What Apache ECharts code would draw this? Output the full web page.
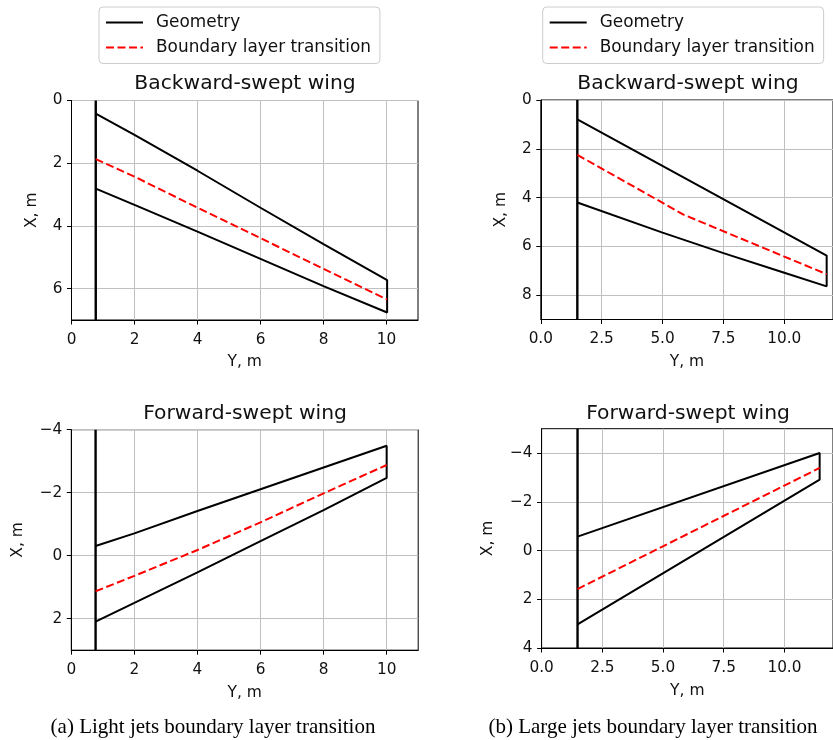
<!DOCTYPE html>
<html>
<head>
<meta charset="utf-8">
<script src="https://cdn.jsdelivr.net/npm/echarts@6/dist/echarts.min.js"></script>
<style>
  html, body { margin: 0; padding: 0; background: #ffffff; }
  #chart { width: 833px; height: 740px; }
</style>
</head>
<body>
<div id="chart"></div>
<script>
// Wing planforms: points are [Y (span), X (chord)] in metres.

// (a) Light jets, backward-swept wing
const lightBackRoot = 0.77;
const lightBackLeading = [[0.77, 0.42], [2, 1.10], [4, 2.24], [6, 3.42], [8, 4.58], [10.02, 5.73]];
const lightBackTrailing = [[0.77, 2.81], [2, 3.33], [4, 4.18], [6, 5.05], [8, 5.92], [10.02, 6.76]];
const lightBackTransition = [[0.77, 1.87], [2, 2.43], [4, 3.42], [6, 4.39], [8, 5.37], [10.02, 6.35]];

// (a) Light jets, forward-swept wing
const lightFwdRoot = 0.77;
const lightFwdLeading = [[0.77, -0.31], [2, -0.71], [4, -1.42], [6, -2.11], [8, -2.80], [10.0, -3.49]];
const lightFwdTrailing = [[0.77, 2.09], [2, 1.50], [4, 0.53], [6, -0.46], [8, -1.45], [10.0, -2.47]];
const lightFwdTransition = [[0.77, 1.13], [2, 0.64], [4, -0.18], [6, -1.06], [8, -1.98], [10.0, -2.88]];

// (b) Large jets, backward-swept wing
const largeBackRoot = 1.5;
const largeBackLeading = [[1.5, 0.79], [11.74, 6.38]];
const largeBackTrailing = [[1.5, 4.20], [5, 5.44], [7.5, 6.28], [10, 7.08], [11.74, 7.64]];
const largeBackTransition = [[1.5, 2.25], [3.5, 3.37], [5.86, 4.70], [8, 5.59], [10, 6.42], [11.74, 7.14]];

// (b) Large jets, forward-swept wing
const largeFwdRoot = 1.48;
const largeFwdLeading = [[1.48, -0.57], [11.45, -4.00]];
const largeFwdTrailing = [[1.48, 3.03], [11.45, -2.91]];
const largeFwdTransition = [[1.48, 1.58], [11.45, -3.39]];

// Axis ranges and tick labels
const spanRangeLight = [0, 11];
const spanTicksLight = [0, 2, 4, 6, 8, 10];
const spanRangeLarge = [0, 12];
const spanTicksLarge = [0, 2.5, 5, 7.5, 10];
const chordRangeLightBack = [0, 7];
const chordTicksLightBack = [0, 2, 4, 6];
const chordRangeLightFwd = [-4, 3];
const chordTicksLightFwd = [-4, -2, 0, 2];
const chordRangeLargeBack = [0, 9];
const chordTicksLargeBack = [0, 2, 4, 6, 8];
const chordRangeLargeFwd = [-5, 4];
const chordTicksLargeFwd = [-4, -2, 0, 2, 4];

const panelTitles = ['Backward-swept wing', 'Backward-swept wing', 'Forward-swept wing', 'Forward-swept wing'];
const captions = ['(a) Light jets boundary layer transition', '(b) Large jets boundary layer transition'];
const seriesNames = ['Geometry', 'Boundary layer transition'];
const spanLabel = 'Y, m';
const chordLabel = 'X, m';

const SANS = 'DejaVu Sans';
const INK = '#111111';

const panels = [
  {
    box: { left: 71.5, top: 100.5, width: 346.5, height: 219.5 },
    span: spanRangeLight, spanTicks: spanTicksLight, spanDigits: 0,
    chord: chordRangeLightBack, chordTicks: chordTicksLightBack,
    xNameGap: 34, yNameGap: 32, titleX: 245, titleY: 73.6,
    root: lightBackRoot, leading: lightBackLeading, trailing: lightBackTrailing, transition: lightBackTransition,
    title: panelTitles[0]
  },
  {
    box: { left: 540.8, top: 100, width: 295.2, height: 219.5 },
    span: spanRangeLarge, spanTicks: spanTicksLarge, spanDigits: 1,
    chord: chordRangeLargeBack, chordTicks: chordTicksLargeBack,
    xNameGap: 34, yNameGap: 32, titleX: 688, titleY: 73.6,
    root: largeBackRoot, leading: largeBackLeading, trailing: largeBackTrailing, transition: largeBackTransition,
    title: panelTitles[1]
  },
  {
    box: { left: 71.3, top: 429.7, width: 346.9, height: 220.5 },
    span: spanRangeLight, spanTicks: spanTicksLight, spanDigits: 0,
    chord: chordRangeLightFwd, chordTicks: chordTicksLightFwd,
    xNameGap: 35, yNameGap: 45.5, titleX: 245, titleY: 403.6,
    root: lightFwdRoot, leading: lightFwdLeading, trailing: lightFwdTrailing, transition: lightFwdTransition,
    title: panelTitles[2]
  },
  {
    box: { left: 541.6, top: 428.7, width: 295.2, height: 219.3 },
    span: spanRangeLarge, spanTicks: spanTicksLarge, spanDigits: 1,
    chord: chordRangeLargeFwd, chordTicks: chordTicksLargeFwd,
    xNameGap: 35, yNameGap: 45.5, titleX: 688, titleY: 403.6,
    root: largeFwdRoot, leading: largeFwdLeading, trailing: largeFwdTrailing, transition: largeFwdTransition,
    title: panelTitles[3]
  }
];

const minus = (s) => String(s).replace('-', '\u2212');

const grids = [], xAxes = [], yAxes = [], series = [], titles = [];

panels.forEach((p, i) => {
  grids.push(Object.assign({ show: true, borderColor: '#000', borderWidth: 1, backgroundColor: 'transparent' }, p.box));

  xAxes.push({
    type: 'value', gridIndex: i, min: p.span[0], max: p.span[1],
    name: spanLabel, nameLocation: 'middle', nameGap: p.xNameGap,
    nameTextStyle: { fontFamily: SANS, fontSize: 15.5, color: INK },
    axisLine: { show: true, onZero: false, lineStyle: { color: '#000', width: 1 } },
    axisTick: { show: true, inside: false, length: 4.5, customValues: p.spanTicks, lineStyle: { color: '#000', width: 1 } },
    axisLabel: {
      customValues: p.spanTicks, margin: 12.5, fontFamily: SANS, fontSize: 15.3, color: INK,
      formatter: (v) => minus(Number(v).toFixed(p.spanDigits))
    },
    splitLine: { show: true, lineStyle: { color: '#c0c0c0', width: 1 } }
  });

  yAxes.push({
    type: 'value', gridIndex: i, min: p.chord[0], max: p.chord[1], inverse: true,
    name: chordLabel, nameLocation: 'middle', nameGap: p.yNameGap, nameRotate: 90,
    nameTextStyle: { fontFamily: SANS, fontSize: 15.5, color: INK },
    axisLine: { show: true, onZero: false, lineStyle: { color: '#000', width: 1 } },
    axisTick: { show: true, inside: false, length: 4.5, customValues: p.chordTicks, lineStyle: { color: '#000', width: 1 } },
    axisLabel: {
      customValues: p.chordTicks, margin: 9, fontFamily: SANS, fontSize: 15.3, color: INK,
      formatter: (v) => minus(v)
    },
    splitLine: { show: true, lineStyle: { color: '#c0c0c0', width: 1 } }
  });

  // Wing outline: leading edge out to the tip, tip chord, trailing edge back to the root
  const outline = p.leading.concat(p.trailing.slice().reverse());
  series.push({
    type: 'line', name: seriesNames[0], xAxisIndex: i, yAxisIndex: i, data: outline,
    symbol: 'none', z: 4, lineStyle: { color: '#000', width: 2 }, itemStyle: { color: '#000' }
  });
  // Root chord line spanning the full chord axis
  series.push({
    type: 'line', name: seriesNames[0], xAxisIndex: i, yAxisIndex: i,
    data: [[p.root, p.chord[0]], [p.root, p.chord[1]]],
    symbol: 'none', z: 4, lineStyle: { color: '#000', width: 2.4 }, itemStyle: { color: '#000' }
  });
  series.push({
    type: 'line', name: seriesNames[1], xAxisIndex: i, yAxisIndex: i, data: p.transition,
    symbol: 'none', z: 5, lineStyle: { color: '#ff0000', width: 2, type: [8, 3.5] }, itemStyle: { color: '#ff0000' }
  });

  titles.push({
    text: p.title, left: p.titleX, top: p.titleY, textAlign: 'center', padding: 0,
    textStyle: { fontFamily: SANS, fontSize: 20.3, fontWeight: 'normal', color: INK }
  });
});

titles.push({
  text: captions[0], left: 213, top: 717.4, textAlign: 'center', padding: 0,
  textStyle: { fontFamily: 'Liberation Serif', fontSize: 21, fontWeight: 'normal', color: '#000' }
});
titles.push({
  text: captions[1], left: 653, top: 717.4, textAlign: 'center', padding: 0,
  textStyle: { fontFamily: 'Liberation Serif', fontSize: 21, fontWeight: 'normal', color: '#000' }
});

// Legend keys show only the line, so the marker inside the key is hidden
const legendBase = {
  orient: 'vertical', top: 7, data: seriesNames,
  itemWidth: 37, itemHeight: 4, itemGap: 8,
  padding: [7, 9, 7.5, 6],
  borderColor: '#cccccc', borderWidth: 1, borderRadius: 4, backgroundColor: '#ffffff',
  itemStyle: { opacity: 0 },
  textStyle: { fontFamily: SANS, fontSize: 16.9, color: INK, padding: [0, 0, 0, 8] },
  selectedMode: false
};

const chart = echarts.init(document.getElementById('chart'), null, { renderer: 'canvas' });
chart.setOption({
  animation: false,
  backgroundColor: '#ffffff',
  title: titles,
  legend: [
    Object.assign({}, legendBase, { left: 99 }),
    Object.assign({}, legendBase, { left: 542.7 })
  ],
  grid: grids,
  xAxis: xAxes,
  yAxis: yAxes,
  series: series
});
</script>
</body>
</html>
